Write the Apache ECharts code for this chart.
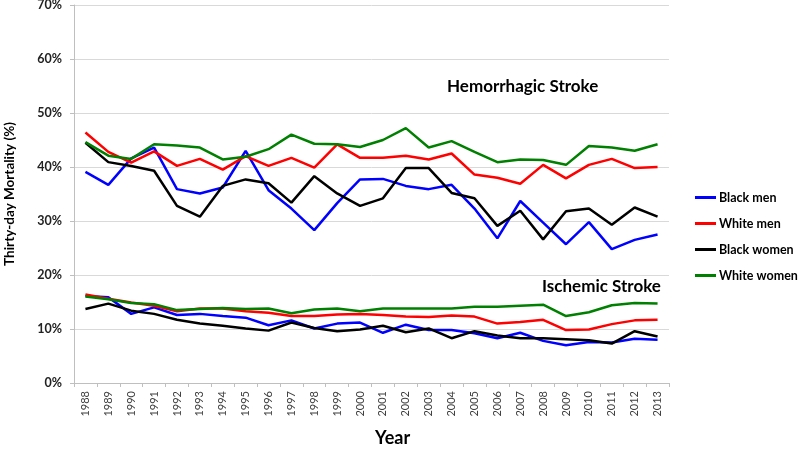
<!DOCTYPE html>
<html><head><meta charset="utf-8">
<script src="https://cdn.jsdelivr.net/npm/echarts@6/dist/echarts.min.js"></script>
<style>html,body{margin:0;padding:0;background:#fff}#c{width:800px;height:451px}</style>
</head><body><div id="c"></div>
<script>
const years = ['1988','1989','1990','1991','1992','1993','1994','1995','1996','1997','1998','1999','2000','2001','2002','2003','2004','2005','2006','2007','2008','2009','2010','2011','2012','2013'];
const seriesNames = ['Black men','White men','Black women','White women'];
const hemBlackMen   = [39.1,36.7,41.6,43.6,35.9,35.1,36.2,43.0,35.7,32.3,28.3,33.3,37.7,37.8,36.5,35.9,36.7,32.3,26.8,33.7,29.7,25.7,29.8,24.8,26.5,27.5];
const hemWhiteMen   = [46.4,42.8,40.8,42.9,40.2,41.5,39.5,42.0,40.2,41.7,39.9,44.2,41.7,41.7,42.1,41.4,42.5,38.6,38.0,36.9,40.4,37.9,40.4,41.5,39.8,40.0];
const hemBlackWomen = [44.5,40.9,40.2,39.3,32.8,30.8,36.5,37.7,37.0,33.4,38.3,35.1,32.8,34.2,39.8,39.8,35.2,34.2,29.1,31.9,26.6,31.8,32.3,29.3,32.5,30.8];
const hemWhiteWomen = [44.6,42.1,41.5,44.2,44.0,43.6,41.4,41.9,43.3,46.0,44.3,44.2,43.7,45.0,47.2,43.6,44.8,42.8,40.9,41.4,41.3,40.4,43.9,43.6,43.0,44.2];
const isBlackMen    = [16.1,15.9,12.8,14.0,12.6,12.8,12.4,12.1,10.7,11.6,10.1,11.0,11.2,9.3,10.8,9.8,9.8,9.2,8.3,9.3,7.8,7.0,7.6,7.5,8.2,8.0];
const isWhiteMen    = [16.4,15.6,14.9,14.3,13.3,13.8,13.8,13.3,13.0,12.4,12.4,12.7,12.8,12.6,12.3,12.2,12.5,12.3,11.0,11.3,11.7,9.8,9.9,10.9,11.6,11.7];
const isBlackWomen  = [13.7,14.7,13.4,12.8,11.7,11.0,10.6,10.1,9.7,11.2,10.2,9.6,9.9,10.6,9.4,10.1,8.3,9.6,8.8,8.3,8.3,8.1,7.9,7.3,9.6,8.6];
const isWhiteWomen  = [16.0,15.5,14.8,14.6,13.5,13.7,13.9,13.7,13.8,12.9,13.6,13.8,13.3,13.8,13.8,13.8,13.8,14.1,14.1,14.3,14.5,12.4,13.1,14.4,14.8,14.7];
const colors = ['#0000ff','#ff0000','#000000','#008000'];
const yTicks = {min:0,max:70,interval:10};

const FONT = 'Lato, "Open Sans", sans-serif';
const chart = echarts.init(document.getElementById('c'), null, {renderer:'canvas'});
const groups = [[hemBlackMen,hemWhiteMen,hemBlackWomen,hemWhiteWomen],[isBlackMen,isWhiteMen,isBlackWomen,isWhiteWomen]];
const series = [];
groups.forEach(g => g.forEach((d,i) => series.push({
  type:'line', name:seriesNames[i], data:d, showSymbol:false, symbol:'none',
  lineStyle:{color:colors[i],width:2.5}, itemStyle:{color:colors[i]}, animation:false
})));
chart.setOption({
  animation:false,
  color:colors,
  grid:{left:74,right:131,top:5,bottom:68,containLabel:false,outerBoundsMode:'none'},
  legend:{orient:'vertical',left:690,top:186,itemWidth:21,itemHeight:3,itemGap:13,icon:'rect',
    data:seriesNames,textStyle:{fontFamily:FONT,fontWeight:'bold',fontSize:12.5,color:'#000',padding:[0,0,0,-2]}},
  xAxis:{type:'category',data:years,boundaryGap:true,
    axisLine:{lineStyle:{color:'#bfbfbf',width:1}},
    axisTick:{show:true,interval:0,length:4,lineStyle:{color:'#bfbfbf'}},
    axisLabel:{rotate:90,interval:0,fontFamily:FONT,fontSize:11,color:'#404040',margin:8}},
  yAxis:{type:'value',min:yTicks.min,max:yTicks.max,interval:yTicks.interval,
    name:'Thirty-day Mortality (%)',nameLocation:'middle',nameGap:57,nameRotate:90,
    nameTextStyle:{fontFamily:FONT,fontWeight:'bold',fontSize:13.5,color:'#000'},
    axisLine:{show:true,lineStyle:{color:'#bfbfbf'}},
    axisTick:{show:true,length:4,lineStyle:{color:'#bfbfbf'}},
    splitLine:{lineStyle:{color:'#d9d9d9',width:1}},
    axisLabel:{formatter:'{value}%',fontFamily:FONT,fontWeight:'bold',fontSize:12.5,color:'#222',margin:12}},
  graphic:[
    {type:'text',left:447,top:78,style:{text:'Hemorrhagic Stroke',fontFamily:FONT,fontWeight:'bold',fontSize:17,fill:'#000'}},
    {type:'text',left:542,top:278,style:{text:'Ischemic Stroke',fontFamily:FONT,fontWeight:'bold',fontSize:17,fill:'#000'}},
    {type:'text',left:375,top:429,style:{text:'Year',fontFamily:FONT,fontWeight:'bold',fontSize:18,fill:'#000'}}
  ],
  series:series
});
</script></body></html>
